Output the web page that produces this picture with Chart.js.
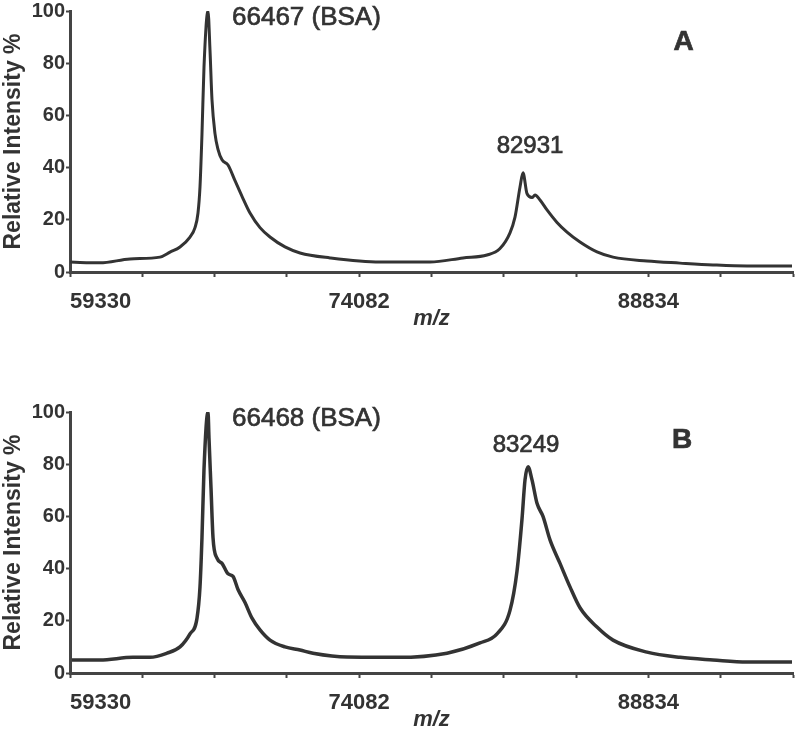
<!DOCTYPE html>
<html>
<head>
<meta charset="utf-8">
<script src="https://cdn.jsdelivr.net/npm/chart.js@4.4.1/dist/chart.umd.min.js"></script>
<style>
  body { margin: 0; background: #fff; width: 800px; height: 735px; position: relative; overflow: hidden; }
  .panel { position: absolute; left: 0; width: 800px; height: 330px; }
</style>
</head>
<body>
<div class="panel" style="top:0"><canvas id="chartA"></canvas></div>
<div class="panel" style="top:401px"><canvas id="chartB"></canvas></div>
<script>
// --- Data ---
const xTicks = [59330, 63018, 66706, 70394, 74082, 77770, 81458, 85146, 88834, 92522, 96210];
const xTickLabels = [59330, 74082, 88834];
const yTicks = [0, 20, 40, 60, 80, 100];

// Panel A
const mzA = [59330, 60860, 62391, 63921, 64431, 64941, 65451, 65706, 65859, 65961, 66063, 66165, 66369,
  66471, 66573, 66726, 66879, 67084, 67390, 67747, 68104, 68512, 69022, 69532, 70297, 71063, 72593,
  75143, 77694, 79377, 80601, 81264, 81774, 82029, 82285, 82438, 82642, 82897, 83050, 83305, 83662,
  84172, 84682, 85345, 86212, 87029, 88763, 90446, 92129, 93864, 96159];
const intensityA = [3.8, 3.5, 5, 5.7, 7.6, 9.6, 13.4, 17, 22.6, 32.6, 53, 78.5, 100,
  85, 66, 53, 47, 43, 41, 35, 29, 22.6, 17, 13.4, 9.6, 7.3, 5.4,
  3.8, 3.8, 5.4, 6.5, 9, 15, 21, 32.6, 38, 30, 28.5, 29.5, 27.6, 23.8,
  19, 15.3, 11.5, 7.7, 5.7, 4.2, 3.4, 2.7, 2.3, 2.3];

// Panel B
const mzB = [59432, 60860, 62544, 63411, 64278, 64941, 65451, 65808, 65961, 66063, 66165, 66369, 66420,
  66522, 66624, 66828, 67084, 67390, 67645, 67900, 68257, 68614, 69022, 69532, 70297, 71063, 71725,
  73460, 76010, 78561, 80244, 81111, 81774, 82131, 82387, 82540, 82693, 82897, 83152, 83458, 83815,
  84325, 84835, 85345, 86212, 87029, 88763, 90446, 92129, 93864, 96159];
const intensityB = [5, 5, 6, 6, 7.6, 10, 15, 21, 33, 52, 78, 100, 90,
  71, 52, 44, 42, 38, 37, 32, 27, 21, 16.5, 12.6, 10, 8.8, 7.6,
  6.1, 6, 7.6, 11.5, 15, 24, 39, 59, 74, 79, 74, 65, 60, 51,
  42, 33, 25, 17.6, 12.6, 8, 6, 5, 4.2, 4.2];

const FONT = '"Liberation Sans", Arial, sans-serif';
const TEXT = '#333333';
const AXIS = '#444444';

// text placed in data coordinates (m/z, %)
const notesA = [
  { text: '66467 (BSA)', mz: 67594, pct: 97.5, align: 'left', font: `26px ${FONT}` },
  { text: '82931', mz: 82795, pct: 48.1, align: 'center', font: `24px ${FONT}` },
  { text: 'A', mz: 90625, pct: 88.1, align: 'center', font: `bold 28px ${FONT}` }
];
const notesB = [
  { text: '66468 (BSA)', mz: 67594, pct: 97.5, align: 'left', font: `26px ${FONT}` },
  { text: '83249', mz: 82591, pct: 87.4, align: 'center', font: `24px ${FONT}` },
  { text: 'B', mz: 90548, pct: 89.3, align: 'center', font: `bold 28px ${FONT}` }
];

// draws the peak labels and panel letter
const peakNotes = {
  id: 'peakNotes',
  afterDraw(chart, args, opts) {
    const { ctx, scales } = chart;
    ctx.save();
    ctx.fillStyle = TEXT;
    ctx.strokeStyle = TEXT;
    ctx.lineWidth = 0.7;
    ctx.textBaseline = 'middle';
    (opts.items || []).forEach(n => {
      const px = scales.x.getPixelForValue(n.mz);
      const py = scales.y.getPixelForValue(n.pct);
      ctx.font = n.font;
      ctx.textAlign = n.align;
      ctx.fillText(n.text, px, py);
      ctx.strokeText(n.text, px, py);
    });
    ctx.restore();
  }
};

function makePanel(canvasId, mz, intensity, notes, lineWidth) {
  const points = mz.map((m, i) => ({ x: m, y: intensity[i] }));
  return new Chart(document.getElementById(canvasId), {
    type: 'line',
    data: {
      datasets: [{
        data: points,
        borderColor: '#333333',
        borderWidth: lineWidth,
        pointRadius: 0,
        fill: false,
        cubicInterpolationMode: 'monotone'
      }]
    },
    options: {
      responsive: true,
      maintainAspectRatio: false,
      animation: false,
      layout: { padding: { top: 11, right: 7, bottom: 2, left: 0 } },
      plugins: {
        legend: { display: false },
        tooltip: { enabled: false },
        peakNotes: { items: notes }
      },
      scales: {
        x: {
          type: 'linear',
          min: xTicks[0],
          max: xTicks[xTicks.length - 1],
          afterBuildTicks: scale => { scale.ticks = xTicks.map(v => ({ value: v })); },
          afterFit: scale => {
            scale.height = 56;
            scale.paddingLeft = 0;
            scale.paddingRight = 0;
          },
          grid: { drawOnChartArea: false, tickLength: 5, tickWidth: 2, tickColor: AXIS },
          border: { color: AXIS, width: 3 },
          ticks: {
            autoSkip: false,
            maxRotation: 0,
            align: 'inner',
            padding: 16,
            color: TEXT,
            font: { family: FONT, size: 22, weight: 'bold', lineHeight: 0.8 },
            callback: v => xTickLabels.includes(v) ? String(v) : ''
          },
          title: {
            display: true,
            text: 'm/z',
            color: TEXT,
            padding: { top: 0, bottom: 0 },
            font: { family: FONT, size: 22, weight: 'bold', style: 'italic', lineHeight: 0.8 }
          }
        },
        y: {
          min: 0,
          max: 100,
          afterBuildTicks: scale => { scale.ticks = yTicks.map(v => ({ value: v })); },
          afterFit: scale => { scale.width = 70; },
          grid: { drawOnChartArea: false, tickLength: 4, tickWidth: 2, tickColor: AXIS },
          border: { color: AXIS, width: 3 },
          ticks: {
            padding: 1,
            color: TEXT,
            font: { family: FONT, size: 20, weight: 'bold', lineHeight: 1 }
          },
          title: {
            display: true,
            text: 'Relative Intensity %',
            color: TEXT,
            padding: { top: 2, bottom: 0 },
            font: { family: FONT, size: 23, weight: 'bold', lineHeight: 1 }
          }
        }
      }
    },
    plugins: [peakNotes]
  });
}

makePanel('chartA', mzA, intensityA, notesA, 3);
makePanel('chartB', mzB, intensityB, notesB, 3.5);
</script>
</body>
</html>
